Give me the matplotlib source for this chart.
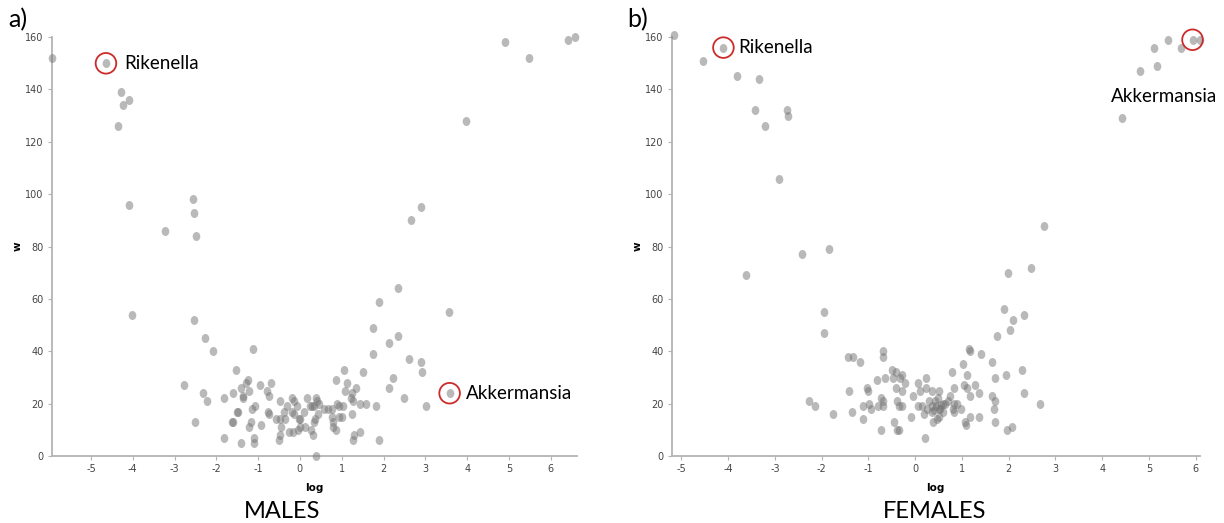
import matplotlib.pyplot as plt
from matplotlib.markers import MarkerStyle
from matplotlib.transforms import Affine2D

plt.rcParams['font.family'] = ['Liberation Sans Narrow', 'DejaVu Sans']
plt.rcParams['axes.unicode_minus'] = False

# males: log fold change vs w
males_log = [-5.93, -4.64, -4.29, -4.23, -4.08, -4.35, -4.08, -3.22, -2.56, -2.54, -2.49, 2.65, 2.9, 3.98, 4.91, 5.49, 6.4, 6.59,
             -4.01, -2.54, -2.26, -2.09, -2.78, -2.32, -2.23, -2.52, -1.81, -1.82, -1.54, -1.12,
             2.34, 1.9, 3.56, 1.74, 1.75, 2.13, 2.34, 2.61, 2.9, 2.92, 2.23, 2.13, 2.49, 3.01, 3.58, 1.88, 1.81, 1.51, 1.57, 0.39,
             1.06, 0.86, 1.12, 1.07,
             -1.61, -1.40, -1.25, -1.29, -1.21, -1.35, -1.35, -1.51, -1.48, -1.63, -1.60, -1.15, -1.07, -1.16, -1.23, -1.40,
             -1.11, -1.09, -0.94, -0.95, -0.78, -0.69, -0.73, -0.77, -0.75, -0.47, -0.57, -0.47, -0.37, -0.36, -0.31, -0.46,
             -0.51, -0.47, -0.25, -0.16, -0.18, -0.15, -0.19, -0.14, -0.07, -0.03, -0.01, 0.01, -0.05, 0.12, 0.09, 0.18,
             0.23, 0.29, 0.33, 0.38, 0.42, 0.46, 0.44, 0.33, 0.27, 0.31, 0.37, 0.58, 0.68, 0.77, 0.76, 0.8, 0.79, 0.86,
             0.94, 1.0, 0.89, 0.93, 1.03, 1.25, 1.21, 1.27, 1.34, 1.43, 1.25, 1.44, 1.3, 1.26]
males_w = [152, 150, 139, 134, 136, 126, 96, 86, 98, 93, 84, 90, 95, 128, 158, 152, 159, 160,
           54, 52, 45, 40, 27, 24, 21, 13, 7, 22, 33, 41,
           64, 59, 55, 49, 39, 43, 46, 37, 36, 32, 30, 26, 22, 19, 24, 6, 19, 32, 20, 0,
           33, 29, 28, 25,
           24, 26, 29, 28, 25, 23, 22, 17, 17, 13, 13, 18, 19, 13, 11, 5,
           7, 5, 12, 27, 25, 28, 23, 17, 16, 21, 14, 14, 17, 14, 19, 11,
           6, 8, 9, 9, 22, 21, 17, 16, 19, 14, 14, 11, 10, 11, 17, 22,
           19, 19, 19, 22, 21, 20, 16, 13, 10, 8, 14, 18, 18, 18, 15, 13, 11, 10,
           15, 15, 20, 19, 19, 24, 22, 21, 26, 20, 16, 9, 8, 6]

# females
females_log = [-5.16, -4.53, -4.1, -3.82, -3.34, -3.42, -3.21, -2.74, -2.71, -2.92, 2.76, -2.42, -1.85, 4.43, 4.8, 5.18,
               5.11, 5.41, 5.68, 5.93, 6.08,
               -3.62, 1.99, 2.47, -1.94, -1.95, 1.9, 2.32, 2.09, 2.02, 1.75, 2.29, 2.32, 2.67, 1.95, 1.96, 2.06, 1.7, 1.64,
               1.65, 1.7, 1.69, 1.7, 1.41, 1.37, 1.36, 1.28, 1.18, 1.15, 1.18, 1.11, 1.03, 1.04, 1.11, 1.17, 1.06, 1.08,
               0.78, 0.84, 0.74, 0.83, 0.97, 0.84, 0.64, 0.54, 0.6, 0.52, 0.46, 0.5, 0.37, 0.42, 0.35, 0.37, 0.39, 0.23,
               0.24, 0.07, 0.11, 0.18, 0.22, 0.05, -0.05, -0.09, -0.29, -0.22, -0.32, -0.28, -0.4, -0.41, -0.49, -0.47,
               -0.34, -0.29, -0.39, -0.46, -0.38, -0.35, -0.65, -0.68, -0.68, -0.81, -0.73, -0.68, -0.69, -0.79, -0.73,
               -1.03, -1.01, -0.99, -0.95, -1.11, -1.12, -1.18, -1.33, -1.43, -1.41, -1.36, -1.75, -2.15, -2.26,
               0.45, 0.5, 0.55, 0.3, 0.4, 0.6, 0.25, 0.48, 0.15, 0.7, 0.9, 0.8]
females_w = [161, 151, 156, 145, 144, 132, 126, 132, 130, 106, 88, 77, 79, 129, 147, 149,
             156, 159, 156, 159, 159,
             69, 70, 72, 55, 47, 56, 54, 52, 48, 46, 33, 24, 20, 31, 10, 11, 30, 36,
             23, 21, 18, 13, 39, 24, 15, 27, 15, 41, 40, 31, 35, 27, 26, 23, 13, 12,
             32, 26, 23, 20, 18, 17, 20, 18, 17, 15, 14, 25, 25, 21, 19, 17, 13, 30,
             26, 28, 25, 16, 7, 19, 23, 15, 31, 28, 30, 25, 26, 32, 33, 30,
             19, 19, 21, 13, 10, 10, 30, 40, 38, 29, 22, 19, 21, 19, 10,
             26, 25, 20, 18, 19, 14, 36, 38, 38, 25, 17, 16, 19, 21,
             19, 18, 19.5, 21, 17.5, 20, 18, 22, 19, 21, 20, 18]

# highlighted taxa
males_hi = ['Rikenella', 'Akkermansia']
males_hi_log = [-4.64, 3.58]
males_hi_w = [150, 24]
females_hi = ['Rikenella', 'Akkermansia']
females_hi_log = [-4.1, 5.93]
females_hi_w = [156, 159]

fig = plt.figure(figsize=(12.24, 5.23), dpi=100)
ax_m = fig.add_axes([0.0425, 0.128, 0.429, 0.801])
ax_f = fig.add_axes([0.549, 0.128, 0.431, 0.801])

# points in the original are a bit taller than wide
dot = MarkerStyle('o', transform=Affine2D().scale(0.85, 1.0))


def style(ax, xlim):
    ax.set_xlim(xlim)
    ax.set_ylim(0, 160)
    for s in ['top', 'right']:
        ax.spines[s].set_visible(False)
    for s in ['left', 'bottom']:
        ax.spines[s].set_color('#b4b4b4')
        ax.spines[s].set_linewidth(1.3)
    ax.set_xticks(range(-5, 7))
    ax.set_yticks(range(0, 161, 20))
    ax.tick_params(length=3, width=0.8, color='#b4b4b4', labelsize=7, labelcolor='#444444', pad=3)
    ax.set_xlabel('log', fontsize=7.5, fontweight='bold', labelpad=6)
    ax.set_ylabel('w', fontsize=7.5, fontweight='bold', labelpad=2)


for ax, x, y, xlim in [(ax_m, males_log, males_w, (-5.93, 6.63)), (ax_f, females_log, females_w, (-5.2, 6.08))]:
    style(ax, xlim)
    ax.scatter(x, y, s=42, marker=dot, color='#747474', alpha=0.5, linewidths=0, clip_on=False, zorder=3)

ax_m.scatter(males_hi_log, males_hi_w, s=220, facecolor='none', edgecolor='#cc2b2b', linewidths=1.3, clip_on=False, zorder=4)
ax_f.scatter(females_hi_log, females_hi_w, s=220, facecolor='none', edgecolor='#cc2b2b', linewidths=1.3, clip_on=False, zorder=4)

lab = dict(fontsize=13.5, family=['Lato', 'DejaVu Sans'], textcoords='offset pixels', va='center')
ax_m.annotate(males_hi[0], (males_hi_log[0], males_hi_w[0]), xytext=(18, 0), ha='left', **lab)
ax_m.annotate(males_hi[1], (males_hi_log[1], males_hi_w[1]), xytext=(16, 0), ha='left', **lab)
ax_f.annotate(females_hi[0], (females_hi_log[0], females_hi_w[0]), xytext=(15, 0), ha='left', **lab)
ax_f.annotate(females_hi[1], (females_hi_log[1], females_hi_w[1]), xytext=(-28, -57), ha='center', **lab)

fig.text(8 / 1224, 1 - 20 / 523, 'a)', fontsize=18, family=['Lato', 'DejaVu Sans'], va='center', ha='left')
fig.text(627 / 1224, 1 - 20 / 523, 'b)', fontsize=18, family=['Lato', 'DejaVu Sans'], va='center', ha='left')
fig.text(282 / 1224, 1 - 512 / 523, 'MALES', fontsize=17, family=['Lato', 'DejaVu Sans'], va='center', ha='center')
fig.text(935 / 1224, 1 - 512 / 523, 'FEMALES', fontsize=17, family=['Lato', 'DejaVu Sans'], va='center', ha='center')

fig.savefig('out.png', dpi=100)
